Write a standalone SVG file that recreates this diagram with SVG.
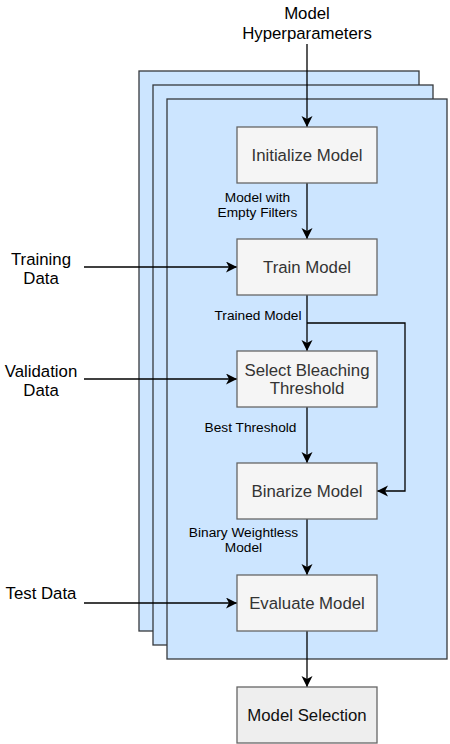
<svg xmlns="http://www.w3.org/2000/svg" width="450" height="744" viewBox="0 0 450 744">
<style>
.bg{fill:#cce5ff;stroke:#36393d;stroke-width:1.3}
.node{fill:#f5f5f5;stroke:#666666;stroke-width:1.3}
.sel{fill:#eeeeee;stroke:#666666;stroke-width:1.3}
.nt{font-family:"Liberation Sans",Arial,sans-serif;font-size:16.8px;fill:#333333;text-anchor:middle}
.st{font-family:"Liberation Sans",Arial,sans-serif;font-size:16.8px;fill:#111111;text-anchor:middle}
.ot{font-family:"Liberation Sans",Arial,sans-serif;font-size:16.8px;fill:#000000;text-anchor:middle}
.lt{font-family:"Liberation Sans",Arial,sans-serif;font-size:13.7px;fill:#000000;text-anchor:middle}
.edge{fill:none;stroke:#000000;stroke-width:1.3}
</style>
<defs>
<marker id="arr" markerUnits="userSpaceOnUse" markerWidth="13" markerHeight="12" refX="11" refY="5.5" orient="auto">
<path d="M0,0 L11,5.5 L0,11 L3,5.5 Z" fill="#000000"/>
</marker>
</defs>
<g id="stack">
<rect class="bg" x="139" y="71" width="280" height="560"/>
<rect class="bg" x="153" y="85" width="280" height="560"/>
<rect class="bg" x="167" y="99" width="280" height="560"/>
</g>
<g id="connectors">
<line class="edge" x1="307" y1="44" x2="307" y2="127" marker-end="url(#arr)"/>
<line class="edge" x1="307" y1="183" x2="307" y2="239" marker-end="url(#arr)"/>
<line class="edge" x1="307" y1="295" x2="307" y2="351" marker-end="url(#arr)"/>
<line class="edge" x1="307" y1="407" x2="307" y2="463" marker-end="url(#arr)"/>
<line class="edge" x1="307" y1="519" x2="307" y2="575" marker-end="url(#arr)"/>
<line class="edge" x1="307" y1="631" x2="307" y2="687" marker-end="url(#arr)"/>
<polyline class="edge" points="307,323 405,323 405,491 377,491" marker-end="url(#arr)"/>
<line class="edge" x1="84" y1="267" x2="237" y2="267" marker-end="url(#arr)"/>
<line class="edge" x1="84" y1="379" x2="237" y2="379" marker-end="url(#arr)"/>
<line class="edge" x1="84" y1="603" x2="237" y2="603" marker-end="url(#arr)"/>
<text class="lt" x="257.5" y="201.5">Model with</text>
<text class="lt" x="257.5" y="216.5">Empty Filters</text>
<text class="lt" x="258" y="320">Trained Model</text>
<text class="lt" x="250.5" y="432">Best Threshold</text>
<text class="lt" x="243.5" y="537">Binary Weightless</text>
<text class="lt" x="243.5" y="552">Model</text>
</g>
<g id="hyper"><text class="ot" x="307" y="19">Model</text><text class="ot" x="307" y="39">Hyperparameters</text></g>
<g id="training"><text class="ot" x="41" y="265">Training</text><text class="ot" x="41" y="283.5">Data</text></g>
<g id="validation"><text class="ot" x="41" y="377">Validation</text><text class="ot" x="41" y="395.5">Data</text></g>
<g id="test"><text class="ot" x="41" y="599">Test Data</text></g>
<g id="init"><rect class="node" x="237" y="127" width="140" height="56"/><text class="nt" x="307" y="161">Initialize Model</text></g>
<g id="train"><rect class="node" x="237" y="239" width="140" height="56"/><text class="nt" x="307" y="273">Train Model</text></g>
<g id="select"><rect class="node" x="237" y="351" width="140" height="56"/><text class="nt" x="307" y="376">Select Bleaching</text><text class="nt" x="307" y="394">Threshold</text></g>
<g id="binarize"><rect class="node" x="237" y="463" width="140" height="56"/><text class="nt" x="307" y="497">Binarize Model</text></g>
<g id="evaluate"><rect class="node" x="237" y="575" width="140" height="56"/><text class="nt" x="307" y="609">Evaluate Model</text></g>
<g id="selection"><rect class="sel" x="237" y="687" width="140" height="56"/><text class="st" x="307" y="721">Model Selection</text></g>
</svg>
